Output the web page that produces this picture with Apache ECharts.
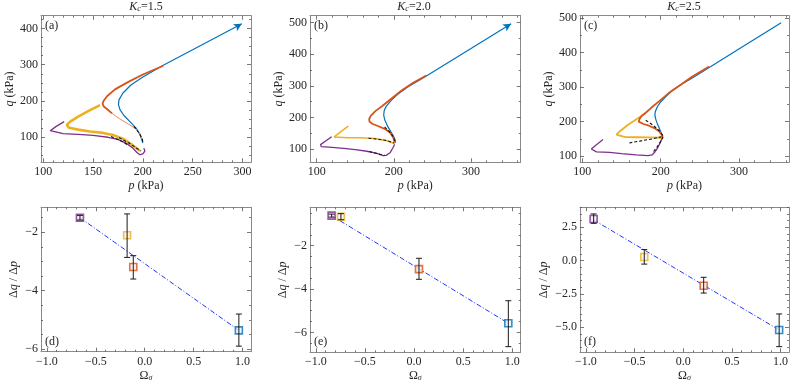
<!DOCTYPE html>
<html>
<head>
<meta charset="utf-8">
<script src="https://cdn.jsdelivr.net/npm/echarts@6.0.0/dist/echarts.min.js"></script>
<style>
    html, body { margin: 0; padding: 0; background: #fff; }
    #main { width: 793px; height: 385px; }
</style>
</head>
<body>
<div id="main"></div>
<script>
var FONT = 'Liberation Serif';
var TXT = '#262626', FRAME = '#8a8a8a', TICK = '#555';
var C_BLUE = '#0072BD', C_ORANGE = '#D95319', C_YELLOW = '#EDB120', C_PURPLE = '#7E2F8E';

// ---- stress paths, [p, q] in kPa ----
// (a) Kc = 1.5
var blueA = [[299.4, 412.9], [250, 341], [220, 298], [200, 266], [188, 244], [180, 222], [176, 203], [175.5, 190],
    [177, 176], [181, 160], [187, 143], [193, 126], [197, 108], [199, 92], [200, 84]];
var orangeA = [[220.5, 297], [200, 273], [185, 252], [172, 232], [164, 213], [160.5, 200], [159.5, 192], [161, 184],
    [164, 178], [169, 166]];
var orangeTailA = [[169, 166], [176, 152], [184, 139], [192, 125], [197, 110], [199, 95]];
var yellowA = [[157, 188.5], [145, 172], [135, 157], [127, 143], [123.5, 134], [126, 126], [135, 121], [147, 116],
    [160, 112], [170, 106], [180, 96], [188, 82], [194, 69], [197, 62]];
var purpleA = [[121, 143], [113, 130], [107, 118], [107.5, 114], [120, 110], [135, 108], [150, 105], [165, 100],
    [175, 94], [183, 84], [190, 70], [194, 58], [197, 52], [200, 54], [202, 62], [201, 70]];
var blackA = [
    [[176, 99], [186, 84], [193, 71], [198, 62]],
    [[191, 130], [196, 113], [199.5, 95], [200, 85]],
    [[168, 102], [178, 90], [186, 77]]
];
// (b) Kc = 2.0
var blueB = [[352, 496.5], [300, 418], [260, 358], [240, 328], [218, 296], [205, 273], [196.6, 254], [190, 235],
    [187.5, 222], [186.8, 207], [188.5, 190], [192.4, 170], [196, 155], [199, 143], [201.5, 130], [202, 120]];
var orangeB = [[242, 333], [225, 310], [210, 285], [195, 256], [185, 236], [176, 220], [170, 205], [168, 195],
    [168.5, 186], [172, 180], [180, 172], [188, 164], [195, 152], [199.5, 135], [201, 120]];
var yellowB = [[141, 172.7], [133, 158], [126, 145], [122.5, 138], [125, 136], [140, 135.5], [156, 135.5],
    [175, 133], [190, 127], [199, 119], [201, 116]];
var purpleB = [[119.4, 138.9], [112, 126], [105, 114], [103, 110], [106, 107.5], [120, 105], [135, 102], [150, 98],
    [165, 93], [178, 86], [186, 79], [190, 80], [195, 88], [199, 105], [201, 115]];
var blackB = [
    [[167, 134], [180, 131], [192, 126], [200, 119]],
    [[188, 170], [194, 155], [199, 140], [201.5, 125]],
    [[168, 92], [178, 86], [188, 80]]
];
// (c) Kc = 2.5
var blueC = [[354, 487], [300, 411], [262.6, 358], [240, 326], [227.7, 310], [215, 291], [206.4, 272], [200, 257],
    [195.8, 243], [193, 228], [192.7, 218], [194, 205], [195.8, 194], [198.5, 180], [200.5, 168], [202.5, 155]];
var orangeC = [[262, 360], [240, 330], [224.3, 305], [210, 282], [198.7, 260], [188, 240], [181.7, 227], [176, 217],
    [173.2, 208], [172, 200], [173, 195], [178, 193], [185, 188], [192, 181], [198, 172], [202, 160], [203, 156]];
var yellowC = [[181, 224], [170, 208], [158, 190], [148, 172], [143.5, 162], [144, 157], [155, 155], [170, 154.5],
    [185, 154], [200, 153], [203, 154]];
var purpleC = [[126.4, 147.7], [118, 133], [111.5, 120.4], [111, 116], [118, 112], [134.9, 110.8], [150, 107],
    [169, 103], [183.8, 101], [189, 103], [192.3, 110.8], [196, 123], [198.7, 135], [201, 147], [203, 154]];
var blackC = [
    [[160, 138], [175, 144], [190, 150], [203, 157]],
    [[181, 204], [190, 190], [198, 174], [203, 159]],
    [[191, 113], [196, 128], [200, 142], [203, 155]]
];

// ---- slope dq/dp against Omega_sigma (purple, yellow, orange, blue) ----
var omegaD = [-0.662, -0.18, -0.117, 0.962];
var slopeD = [-1.5, -2.10, -3.19, -5.36];
var loD = [-1.58, -2.86, -3.60, -5.90];
var hiD = [-1.42, -1.37, -2.80, -4.80];
var fitD = [[-0.662, -1.5], [0.962, -5.36]];

var omegaE = [-0.84, -0.745, 0.05, 0.96];
var slopeE = [-0.61, -0.66, -3.08, -5.58];
var loE = [-0.68, -0.80, -3.55, -6.66];
var hiE = [-0.54, -0.52, -2.58, -4.54];
var fitE = [[-0.84, -0.61], [0.96, -5.58]];

var omegaF = [-0.92, -0.40, 0.21, 0.985];
var slopeF = [3.12, 0.27, -1.88, -5.2];
var loF = [2.8, -0.26, -2.43, -6.45];
var hiF = [3.5, 0.83, -1.25, -4.0];
var fitF = [[-0.92, 3.05], [0.985, -5.2]];

// ---- tick labels ----
var pTicksA = [100, 150, 200, 250, 300];
var qTicksA = [100, 200, 300, 400];
var pTicksBC = [100, 200, 300];
var qTicksBC = [100, 200, 300, 400, 500];
var omegaTicks = [-1, -0.5, 0, 0.5, 1];
var slopeTicksDE = [-6, -4, -2];
var slopeTicksF = [-5, -2.5, 0, 2.5];

var stateColors = [C_PURPLE, C_YELLOW, C_ORANGE, C_BLUE];

function minus(s) { return String(s).replace('-', '\u2212'); }
function fmtInt(v) { return minus(Math.round(v)); }
function fmt1(v) { return minus(v.toFixed(1)); }

function minorTicks(r, step, major) {
    var out = [];
    for (var k = Math.ceil(r[0] / step - 1e-9); k * step <= r[1] + 1e-9; k++) {
        var v = Math.round(k * step * 1000) / 1000;
        var isMajor = major.some(function (m) { return Math.abs(m - v) < 1e-6; });
        if (!isMajor) out.push(v);
    }
    return out;
}

var grids = [], xAxes = [], yAxes = [], series = [];
var italic = { fontStyle: 'italic', fontFamily: FONT, fontSize: 12, color: TXT };
var sub = { fontStyle: 'italic', fontFamily: FONT, fontSize: 8, color: TXT, verticalAlign: 'bottom', lineHeight: 8 };

function baseAxis(gi, pos, r, ticks, len, showLine) {
    return {
        type: 'value', gridIndex: gi, position: pos, min: r[0], max: r[1],
        axisLine: { show: showLine, onZero: false, lineStyle: { color: FRAME, width: 1 } },
        axisTick: { show: true, inside: true, length: len, customValues: ticks, lineStyle: { color: TICK, width: 0.8 } },
        axisLabel: { show: false },
        splitLine: { show: false }
    };
}

function panel(box, xr, yr, xt, xstep, yt, ystep, xfmt, yfmt, xname, yname, ygap) {
    var gi = grids.length;
    grids.push(box);
    var ax = { x: xAxes.length, y: yAxes.length };

    var xMain = baseAxis(gi, 'bottom', xr, xt, 4, true);
    xMain.axisLabel = { show: true, customValues: xt, formatter: xfmt, margin: 4, color: TXT, fontFamily: FONT, fontSize: 12 };
    xMain.name = xname;
    xMain.nameLocation = 'middle';
    xMain.nameGap = 18;
    xMain.nameTextStyle = { color: TXT, fontFamily: FONT, fontSize: 12, rich: { i: italic, s: sub } };
    var xMinor = minorTicks(xr, xstep, xt);
    xAxes.push(xMain, baseAxis(gi, 'bottom', xr, xMinor, 2, false),
        baseAxis(gi, 'top', xr, xt, 4, true), baseAxis(gi, 'top', xr, xMinor, 2, false));

    var yMain = baseAxis(gi, 'left', yr, yt, 4, true);
    yMain.axisLabel = { show: true, customValues: yt, formatter: yfmt, margin: 3, color: TXT, fontFamily: FONT, fontSize: 12 };
    yMain.name = yname;
    yMain.nameLocation = 'middle';
    yMain.nameGap = ygap;
    yMain.nameTextStyle = { color: TXT, fontFamily: FONT, fontSize: 12, rich: { i: italic, s: sub } };
    var yMinor = minorTicks(yr, ystep, yt);
    yAxes.push(yMain, baseAxis(gi, 'left', yr, yMinor, 2, false),
        baseAxis(gi, 'right', yr, yt, 4, true), baseAxis(gi, 'right', yr, yMinor, 2, false));
    return ax;
}

function pathLine(ax, data, color, width, extra) {
    var s = {
        type: 'line', xAxisIndex: ax.x, yAxisIndex: ax.y, data: data,
        symbol: 'none', showSymbol: false, silent: true, z: 2,
        lineStyle: { color: color, width: width }
    };
    return Object.assign(s, extra || {});
}

function withArrow(data, rot) {
    return data.map(function (d, i) {
        if (i > 0) return d;
        return { value: d, symbol: 'arrow', symbolSize: [6, 8], symbolRotate: rot, itemStyle: { color: C_BLUE } };
    });
}

function stressPanel(ax, blue, orange, orangeTail, yellow, purple, blacks, arrowRot, yellowW) {
    var b = arrowRot === null ? blue : withArrow(blue, arrowRot);
    series.push(pathLine(ax, b, C_BLUE, 1.2, { showSymbol: arrowRot !== null }));
    series.push(pathLine(ax, purple, C_PURPLE, 1.3));
    series.push(pathLine(ax, yellow, C_YELLOW, yellowW));
    series.push(pathLine(ax, orange, C_ORANGE, 1.8));
    if (orangeTail) series.push(pathLine(ax, orangeTail, '#e58a63', 1.0));
    blacks.forEach(function (seg) {
        series.push(pathLine(ax, seg, '#111', 1.1, { z: 3, lineStyle: { color: '#111', width: 1.1, type: [3, 2] } }));
    });
}

function slopePanel(ax, om, sl, lo, hi, fit) {
    series.push({
        type: 'line', xAxisIndex: ax.x, yAxisIndex: ax.y, data: fit, symbol: 'none', z: 2, silent: true,
        lineStyle: { color: '#2233ff', width: 1, type: [5, 2, 1, 2] }
    });
    series.push({
        type: 'scatter', xAxisIndex: ax.x, yAxisIndex: ax.y, symbol: 'rect', symbolSize: 7, z: 3, silent: true,
        itemStyle: { color: '#f2f2f2', borderWidth: 1.6 },
        data: om.map(function (o, i) {
            return { value: [o, sl[i]], itemStyle: { borderColor: stateColors[i] } };
        })
    });
    series.push({
        type: 'custom', xAxisIndex: ax.x, yAxisIndex: ax.y, z: 4, silent: true,
        encode: { x: 0, y: [1, 2] },
        data: om.map(function (o, i) { return [o, lo[i], hi[i]]; }),
        renderItem: function (params, api) {
            var a = api.coord([api.value(0), api.value(1)]);
            var b = api.coord([api.value(0), api.value(2)]);
            var w = 3;
            var st = { stroke: '#1a1a1a', lineWidth: 1 };
            return {
                type: 'group', children: [
                    { type: 'line', shape: { x1: a[0], y1: a[1], x2: b[0], y2: b[1] }, style: st },
                    { type: 'line', shape: { x1: a[0] - w, y1: a[1], x2: a[0] + w, y2: a[1] }, style: st },
                    { type: 'line', shape: { x1: b[0] - w, y1: b[1], x2: b[0] + w, y2: b[1] }, style: st }
                ]
            };
        }
    });
}

var pName = '{i|p} (kPa)', qName = '{i|q} (kPa)';
var omName = '\u03a9{s|\u03c3}', slName = '\u0394{i|q} / \u0394{i|p}';

var axA = panel({ left: 41, top: 15.7, width: 210, height: 146.6 }, [97.7, 308.6], [31, 435],
    pTicksA, 10, qTicksA, 25, fmtInt, fmtInt, pName, qName, 25);
var axB = panel({ left: 310, top: 15.7, width: 210.7, height: 146.6 }, [91.3, 364.4], [58, 522],
    pTicksBC, 20, qTicksBC, 50, fmtInt, fmtInt, pName, qName, 25);
var axC = panel({ left: 580, top: 15.7, width: 209, height: 146.6 }, [97, 364], [81.7, 507.6],
    pTicksBC, 20, qTicksBC, 50, fmtInt, fmtInt, pName, qName, 25);
var axD = panel({ left: 41, top: 207.3, width: 210, height: 144.4 }, [-1.06, 1.086], [-6.09, -1.143],
    omegaTicks, 0.1, slopeTicksDE, 0.5, fmt1, fmtInt, omName, slName, 21);
var axE = panel({ left: 310, top: 207.3, width: 210.7, height: 145 }, [-1.06, 1.086], [-6.92, -0.226],
    omegaTicks, 0.1, slopeTicksDE, 0.5, fmt1, fmtInt, omName, slName, 21);
var axF = panel({ left: 580, top: 207.3, width: 209, height: 145 }, [-1.06, 1.086], [-6.875, 4.0],
    omegaTicks, 0.1, slopeTicksF, 0.5, fmt1, fmt1, omName, slName, 30);

stressPanel(axA, blueA, orangeA, orangeTailA, yellowA, purpleA, blackA, -60, 2.6);
stressPanel(axB, blueB, orangeB, null, yellowB, purpleB, blackB, -58, 1.5);
stressPanel(axC, blueC, orangeC, null, yellowC, purpleC, blackC, null, 1.8);
slopePanel(axD, omegaD, slopeD, loD, hiD, fitD);
slopePanel(axE, omegaE, slopeE, loE, hiE, fitE);
slopePanel(axF, omegaF, slopeF, loF, hiF, fitF);

function label(x, y, text, align) {
    return {
        type: 'text', x: x, y: y, z: 10,
        style: {
            text: text, fill: TXT, font: '12px "' + FONT + '"', align: align || 'left', verticalAlign: 'middle',
            rich: { i: italic, s: sub }
        }
    };
}

var chart = echarts.init(document.getElementById('main'), null, { renderer: 'canvas' });
chart.setOption({
    animation: false,
    backgroundColor: '#fff',
    grid: grids,
    xAxis: xAxes,
    yAxis: yAxes,
    series: series,
    graphic: [
        label(146, 7, '{i|K}{s|c}=1.5', 'center'),
        label(414, 7, '{i|K}{s|c}=2.0', 'center'),
        label(684, 7, '{i|K}{s|c}=2.5', 'center'),
        label(45, 26, '(a)'),
        label(314, 26, '(b)'),
        label(584, 26, '(c)'),
        label(45, 342, '(d)'),
        label(314, 342, '(e)'),
        label(584, 342, '(f)')
    ]
});
</script>
</body>
</html>
